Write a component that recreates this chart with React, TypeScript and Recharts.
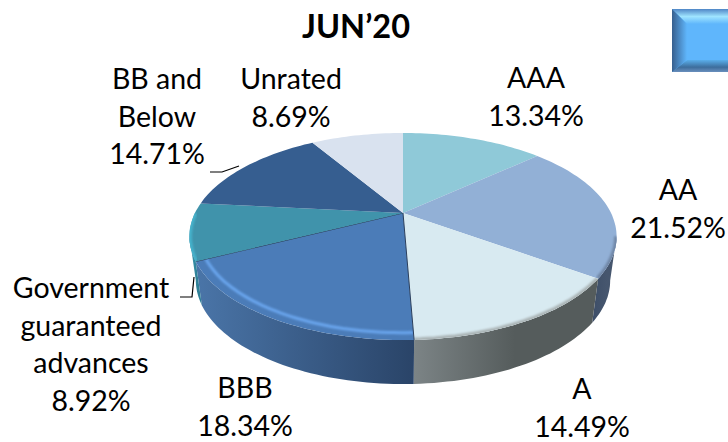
import { PieChart, Pie } from "recharts";

const names = ["AAA", "AA", "A", "BBB", "Government guaranteed advances", "BB and Below", "Unrated"];
const shares = [13.34, 21.52, 14.49, 18.34, 8.92, 14.71, 8.69];

const topColors = ["#8fc9d8", "#92b0d6", "#d8eaf1", "#4b7cb8", "#4093ab", "#365e90", "#d9e2ef"];
const rimColors = ["#8fc9d8", "#6f86a6", "#a9b2b4", "#6aa6ee", "#45b2cc", "#365e90", "#d9e2ef"];
const wallFrom = ["#7fa9b4", "#3d4e68", "#7c8486", "#4a75a8", "#3a9db5", "#365e90", "#b8c0cc"];
const wallTo = ["#7fa9b4", "#46566e", "#555c5c", "#2a4468", "#2f8097", "#365e90", "#b8c0cc"];
const wallMidStops = ["60%", "60%", "55%", "100%", "60%", "60%", "60%"];

const labelLines = [
  ["AAA", "13.34%"],
  ["AA", "21.52%"],
  ["A", "14.49%"],
  ["BBB", "18.34%"],
  ["Government", "guaranteed", "advances", "8.92%"],
  ["BB and", "Below", "14.71%"],
  ["Unrated", "8.69%"],
];
const labelAnchors = [
  [536, 88],
  [678, 200],
  [582, 399],
  [245, 398],
  [91, 298],
  [157, 89],
  [291, 89],
];

const pieData = names.map((name, i) => ({ name, value: shares[i] }));

const FONT = "Lato, 'Open Sans', sans-serif";
const LINE_HEIGHT = 37.5;
const CX = 403;
const CY = 213;
const RX = 208;
const RY = 98.2;
const TILT = 0.227;
const DEPTH = 44;
const WALL_SHRINK = 0.97;
const SILHOUETTE = 13;

// the pie lies tilted, so a point on the disc goes through a small perspective
function project(radius: number, chartAngle: number) {
  const a = (chartAngle * Math.PI) / 180;
  const u = radius * Math.cos(a);
  const v = -radius * Math.sin(a);
  const d = 1 - TILT * v;
  return [CX + (RX * u) / d, CY + (RY * v) / d];
}

function arcPoints(radius: number, start: number, end: number, dy = 0, shrink = 1) {
  const steps = Math.max(2, Math.ceil(Math.abs(end - start) / 1.5));
  const pts: string[] = [];
  for (let i = 0; i <= steps; i++) {
    const [x, y] = project(radius, start + ((end - start) * i) / steps);
    pts.push(`${(CX + (x - CX) * shrink).toFixed(1)} ${(y + dy).toFixed(1)}`);
  }
  return pts;
}

function PerspectiveSector(props: any) {
  const i = names.indexOf(props.name);
  const start = props.startAngle;
  const end = props.endAngle;
  const face = arcPoints(1, start, end);
  const isBbb = names[i] === "BBB";

  // only the part of the rim facing the viewer has a wall
  const wallStart = Math.min(start, -SILHOUETTE);
  const wallEnd = Math.max(end, -180 + SILHOUETTE);
  const hasWall = wallStart > wallEnd;
  const wall = hasWall
    ? [...arcPoints(1, wallStart, wallEnd), ...arcPoints(1, wallEnd, wallStart, DEPTH, WALL_SHRINK)]
    : [];
  const xs = wall.map((p) => Number(p.split(" ")[0]));
  const minX = xs.length ? Math.min(...xs) : 0;
  const maxX = xs.length ? Math.max(...xs) : 1;
  const rimEnd = Math.max(end, -180);

  return (
    <g>
      <defs>
        <linearGradient id={`wall${i}`} gradientUnits="userSpaceOnUse" x1={minX} x2={maxX} y1={0} y2={0}>
          <stop offset="0%" stopColor={wallFrom[i]} />
          <stop offset={wallMidStops[i]} stopColor={wallTo[i]} />
          <stop offset="100%" stopColor={wallTo[i]} />
        </linearGradient>
        <filter id={`soft${i}`} x="-10%" y="-10%" width="120%" height="120%">
          <feGaussianBlur stdDeviation={1.2} />
        </filter>
        <clipPath id={`face${i}`}>
          <path d={`M${CX} ${CY}L${face.join("L")}Z`} />
        </clipPath>
      </defs>
      {hasWall && <path d={`M${wall.join("L")}Z`} fill={`url(#wall${i})`} />}
      <path d={`M${CX} ${CY}L${face.join("L")}Z`} fill={topColors[i]} />
      {hasWall && (
        <g clipPath={`url(#face${i})`}>
          <path
            d={`M${arcPoints(isBbb ? 0.955 : 1, wallStart, rimEnd).join("L")}`}
            fill="none"
            stroke={rimColors[i]}
            strokeWidth={isBbb ? 3 : 5}
            filter={`url(#soft${i})`}
          />
        </g>
      )}
      {isBbb && (
        <path
          d={`M${face[0]}L${CX} ${CY}L${face[face.length - 1]}`}
          fill="none"
          stroke="#2b3f5c"
          strokeWidth={1}
        />
      )}
    </g>
  );
}

function SliceLabel(props: any) {
  const i = names.indexOf(props.name);
  const [x, y] = labelAnchors[i];
  return (
    <text x={x} y={y} textAnchor="middle" fontFamily={FONT} fontSize={28.5} fill="#000">
      {labelLines[i].map((line, k) => (
        <tspan key={line} x={x} y={y + k * LINE_HEIGHT}>
          {line}
        </tspan>
      ))}
    </text>
  );
}

function BevelBox() {
  return (
    <g>
      <defs>
        <linearGradient id="boxTop" x1="0" x2="0" y1="0" y2="1">
          <stop offset="0%" stopColor="#4f86c6" />
          <stop offset="50%" stopColor="#9fe4ff" />
          <stop offset="100%" stopColor="#5fb6fc" />
        </linearGradient>
        <linearGradient id="boxBottom" x1="0" x2="0" y1="0" y2="1">
          <stop offset="0%" stopColor="#5aaeea" />
          <stop offset="60%" stopColor="#3d6d9c" />
          <stop offset="100%" stopColor="#6a8fbd" />
        </linearGradient>
        <linearGradient id="boxLeft" x1="0" x2="1" y1="0" y2="0">
          <stop offset="0%" stopColor="#375f8e" />
          <stop offset="100%" stopColor="#5fb6fc" />
        </linearGradient>
      </defs>
      <rect x={672} y={9} width={56} height={63} fill="#5fb6fc" />
      <polygon points="672,9 728,9 728,24 687,24" fill="url(#boxTop)" />
      <polygon points="672,72 728,72 728,60 687,60" fill="url(#boxBottom)" />
      <polygon points="672,9 687,24 687,60 672,72" fill="url(#boxLeft)" />
    </g>
  );
}

export default function App() {
  return (
    <div style={{ position: "absolute", left: 0, top: 0, width: 728, height: 442, background: "#fff" }}>
      <PieChart width={728} height={442} margin={{ top: 0, right: 0, bottom: 0, left: 0 }}>
        <Pie
          data={pieData}
          dataKey="value"
          nameKey="name"
          cx={CX}
          cy={CY}
          outerRadius={100}
          startAngle={90}
          endAngle={-270}
          stroke="none"
          shape={PerspectiveSector}
          label={SliceLabel}
          labelLine={false}
          isAnimationActive={false}
        />
        <text x={356} y={38} textAnchor="middle" fontFamily={FONT} fontSize={32.5} fontWeight={700} fill="#000">
          JUN’20
        </text>
        <BevelBox />
        <path d="M210 172 L222 172 L239 166" fill="none" stroke="#000" strokeWidth={1.2} />
        <path d="M180 297 L192 297 L194 277" fill="none" stroke="#000" strokeWidth={1.2} />
      </PieChart>
    </div>
  );
}
